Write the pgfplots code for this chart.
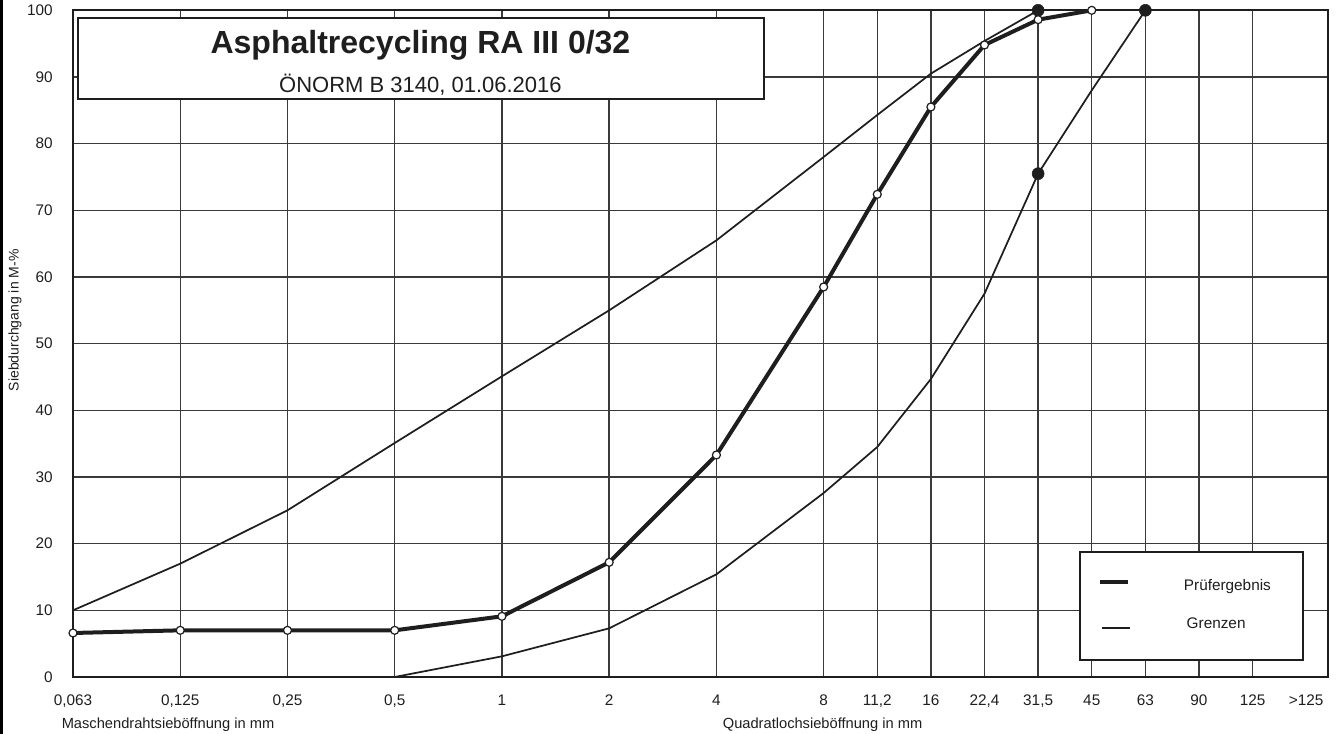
\documentclass[border=0pt]{standalone}
\usepackage{pgfplots}
\pgfplotsset{compat=1.18}
\usepackage{fontspec}
\setmainfont{Liberation Sans}
\definecolor{ink}{HTML}{1E1E1E}
\definecolor{gridc}{HTML}{3A3A3A}

\begin{document}
\begin{tikzpicture}
\useasboundingbox (-54.75pt,-42.75pt) rectangle (952.5pt,507.75pt);
\fill[black] (-54.75pt,-42.75pt) rectangle (-52.5pt,507.75pt);
\begin{axis}[
  scale only axis, width=941pt, height=500pt,
  xmin=0, xmax=11.7, ymin=0, ymax=100,
  clip=false,
  axis line style={ink, line width=1.6pt},
  xtick={0,1,2,3,4,5,6,7,7.5,8,8.5,9,9.5,10,10.5,11},
  xticklabels={{0,063},{0,125},{0,25},{0,5},1,2,4,8,{11,2},16,{22,4},{31,5},45,63,90,125},
  extra x ticks={11.5}, extra x tick labels={{>125}},
  extra x tick style={grid=none},
  ytick={0,10,...,100},
  grid=major, major grid style={gridc, line width=1.1pt},
  major tick length=0pt,
  tick label style={font=\fontsize{11.5}{13}\selectfont, text=ink},
  xticklabel style={anchor=base, yshift=-21.5pt},
  yticklabel style={anchor=east, inner sep=0pt, xshift=-15pt},
  /pgf/number format/assume math mode=true,
]
% Grenzen (upper)
\addplot[ink, line width=1.3pt] coordinates {
 (0,10) (1,17) (2,25) (3,35.1) (4,45.1) (5,55) (6,65.5) (7,78) (7.5,84.3) (8,90.5) (8.5,95.4) (9,100)
};
% Grenzen (lower)
\addplot[ink, line width=1.3pt] coordinates {
 (3,0) (4,3.1) (5,7.3) (6,15.4) (7,27.6) (7.5,34.5) (8,44.7) (8.5,57.5) (9,75.5) (9.5,88) (10,100)
};
% Grenzen key points
\addplot[only marks, mark=*, mark size=4.5pt, ink] coordinates {
 (9,100) (9,75.5) (10,100)
};
% Pruefergebnis
\addplot[ink, line width=3pt, mark=*, mark options={fill=white, draw=ink, line width=0.9pt, mark size=3pt}] coordinates {
 (0,6.6) (1,7.0) (2,7.0) (3,7.0) (4,9.1) (5,17.2) (6,33.3) (7,58.5) (7.5,72.4) (8,85.5) (8.5,94.8) (9,98.6) (9.5,100)
};

% title box
\draw[ink, line width=1.5pt, fill=white] (axis cs:0.047,98.9) rectangle (axis cs:6.44,86.7);
\node[font=\fontsize{24}{28}\selectfont\bfseries, text=ink, anchor=base] at (axis cs:3.24,93.5) {Asphaltrecycling RA III 0/32};
\node[font=\fontsize{16.5}{19}\selectfont, text=ink, anchor=base] at (axis cs:3.24,87.7) {ÖNORM B 3140, 01.06.2016};

% legend
\draw[ink, line width=1.5pt, fill=white] (axis cs:9.394,18.74) rectangle (axis cs:11.474,2.55);
\draw[ink, line width=3pt] (axis cs:9.58,14.2) -- (axis cs:9.84,14.2);
\draw[ink, line width=1.3pt] (axis cs:9.6,7.4) -- (axis cs:9.86,7.4);
\node[font=\fontsize{11.5}{13}\selectfont, text=ink, anchor=base] at (axis cs:10.765,13.0) {Prüfergebnis};
\node[font=\fontsize{11.5}{13}\selectfont, text=ink, anchor=base] at (axis cs:10.66,7.2) {Grenzen};

% axis labels
\node[rotate=90, font=\fontsize{10.5}{12}\selectfont, text=ink] at ([xshift=-43.5pt]axis cs:0,53.5) {Siebdurchgang in M-\%};
\node[font=\fontsize{11}{13}\selectfont, text=ink, anchor=base] at ([yshift=-38.5pt]axis cs:0.886,0) {Maschendrahtsieböffnung in mm};
\node[font=\fontsize{11}{13}\selectfont, text=ink, anchor=base] at ([yshift=-38.5pt]axis cs:6.99,0) {Quadratlochsieböffnung in mm};
\end{axis}
\end{tikzpicture}
\end{document}
